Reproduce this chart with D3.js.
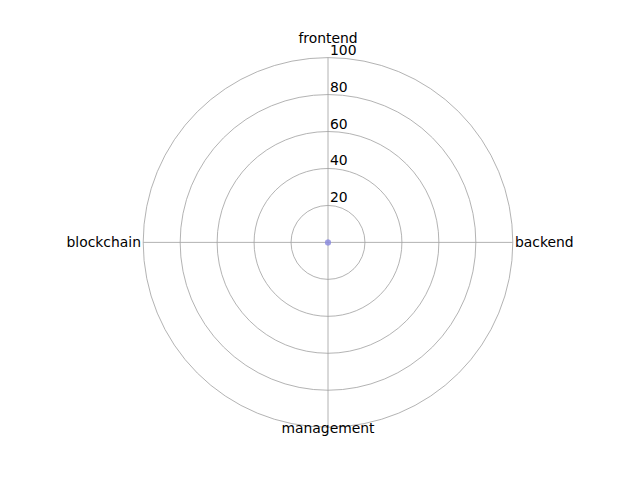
<!DOCTYPE html>
<html>
<head>
<meta charset="utf-8">
<script src="https://cdn.jsdelivr.net/npm/d3@7"></script>
<style>
  body { margin: 0; background: #fff; }
  text { font-family: "DejaVu Sans", sans-serif; font-size: 13.9px; fill: #000; }
</style>
</head>
<body>
<div id="chart"></div>
<script>
// data
var categories = ["frontend", "backend", "management", "blockchain"];
var scores = [0, 0, 0, 0];
var rTicks = [20, 40, 60, 80, 100];

var svgWidth = 640;
var svgHeight = 480;
var cx = 328, cy = 242.4;
var radius = 184.8;

var svg = d3.select("#chart")
  .append("svg")
  .attr("width", svgWidth)
  .attr("height", svgHeight);

var g = svg.append("g")
  .attr("transform", `translate(${cx}, ${cy})`);

var rScale = d3.scaleLinear().domain([0, 100]).range([0, radius]);
var angle = d3.scalePoint().domain(categories).range([0, 2 * Math.PI * 3 / 4]);

// rings
g.selectAll(".ring").data(rTicks)
  .enter().append("circle")
  .attr("class", "ring")
  .attr("r", d => rScale(d))
  .attr("fill", "none")
  .attr("stroke", "#a0a0a0")
  .attr("stroke-width", 0.8);

// spokes
g.selectAll(".spoke").data(categories)
  .enter().append("line")
  .attr("x1", 0).attr("y1", 0)
  .attr("x2", d => rScale(100) * Math.sin(angle(d)))
  .attr("y2", d => -rScale(100) * Math.cos(angle(d)))
  .attr("stroke", "#a0a0a0")
  .attr("stroke-width", 0.8);

// radial labels
g.selectAll(".rlabel").data(rTicks)
  .enter().append("text")
  .attr("x", 2)
  .attr("y", d => -rScale(d) - 3)
  .text(d => d);

// category labels
var labelPos = {
  frontend: { dx: 0, dy: -199, anchor: "middle" },
  backend: { dx: 187, dy: 5, anchor: "start" },
  management: { dx: 0, dy: 191, anchor: "middle" },
  blockchain: { dx: -187, dy: 5, anchor: "end" }
};
g.selectAll(".clabel").data(categories)
  .enter().append("text")
  .attr("x", d => labelPos[d].dx)
  .attr("y", d => labelPos[d].dy)
  .attr("text-anchor", d => labelPos[d].anchor)
  .text(d => d);

// data polygon
var line = d3.lineRadial()
  .angle((d, i) => angle(categories[i]))
  .radius(d => rScale(d))
  .curve(d3.curveLinearClosed);

g.append("path")
  .datum(scores)
  .attr("d", line)
  .attr("fill", "#6a5acd")
  .attr("fill-opacity", 0.25)
  .attr("stroke", "#6a5acd")
  .attr("stroke-opacity", 0.6)
  .attr("stroke-width", 1.5);

g.selectAll(".pt").data(scores)
  .enter().append("circle")
  .attr("cx", (d, i) => rScale(d) * Math.sin(angle(categories[i])))
  .attr("cy", (d, i) => -rScale(d) * Math.cos(angle(categories[i])))
  .attr("r", 3)
  .attr("fill", "#8a8ae0")
  .attr("fill-opacity", 0.35);
</script>
</body>
</html>
